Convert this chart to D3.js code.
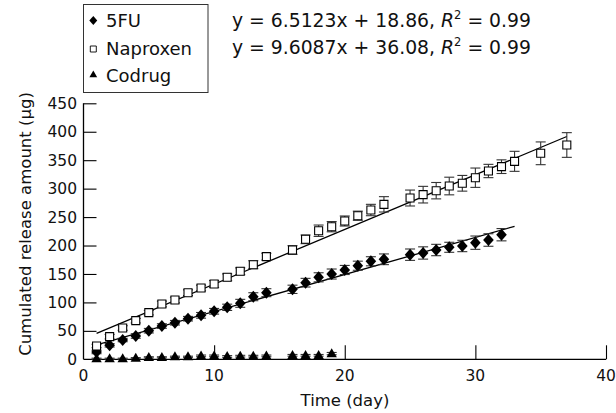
<!DOCTYPE html>
<html>
<head>
<meta charset="utf-8">
<script src="https://cdn.jsdelivr.net/npm/d3@7"></script>
<style>
  html, body { margin: 0; padding: 0; background: #fff; }
  svg { display: block; font-family: "DejaVu Sans", sans-serif; }
</style>
</head>
<body>
<svg id="chart" width="616" height="413"></svg>
<script>
// ---- data ----
const fuDays      = [1,2,3,4,5,6,7,8,9,10,11,12,13,14,16,17,18,19,20,21,22,23,25,26,27,28,29,30,31,32];
const fuValues    = [12.8,24.6,33.9,41,50.3,58.5,64.3,71.4,77.3,84.4,91.4,98.4,110,117.1,123,134.7,144.1,149.9,157,164.5,172.3,175.8,183.9,186.9,192.1,196.9,199.2,205,209.7,219];
const fuErrors    = [3,3,3,4,4,4,4,4,5,5,5.5,7,7,7,7.3,7.6,8,8.8,8,8,8,9.4,10,10.8,10,8.8,10,11.7,11,10.8];

const napDays     = [1,2,3,4,5,6,7,8,9,10,11,12,13,14,16,17,18,19,20,21,22,23,25,26,27,28,29,30,31,32,33,35,37];
const napValues   = [23.4,39.8,55,67.9,82,97.2,104.2,117.1,125.3,132.4,144.1,154.7,166.3,180.4,192.1,210.9,226,233.1,243.1,252.4,262.4,272.4,283.5,289.4,296.4,304.6,309.4,319.2,331,338.6,348,362.1,376.7];
const napErrors   = [3,4,4,4,4,5,5,5,5,6,6,6,7,6,7.6,7.6,10,9,8.8,8,10,13.5,14,14.6,14.4,15.5,13.8,17,11.7,12,17.6,20,21.7];

const coDays      = [1,2,3,4,5,6,7,8,9,10,11,12,13,14,16,17,18,19];
const coValues    = [1,1,1,2,3.5,3.5,4.5,4.5,6,6,5,5.5,5.5,6,7,7,7,10];
const coErrors    = [1,1,1,1,1,1,1,1,1.5,1.5,1.5,1.5,1.5,1.5,1.5,1.5,1.5,2];

const fuFit  = { slope: 6.5123, intercept: 18.86, from: 1, to: 33 };
const napFit = { slope: 9.6087, intercept: 36.08, from: 1, to: 37 };

const xTicks = [0,10,20,30,40];
const yTicks = [0,50,100,150,200,250,300,350,400,450];
const legendLabels = ["5FU","Naproxen","Codrug"];
const equationTexts = [
  ["y = 6.5123x + 18.86, ", "R", "2", " = 0.99"],
  ["y = 9.6087x + 36.08, ", "R", "2", " = 0.99"]
];
const xTitle = "Time (day)";
const yTitle = "Cumulated release amount (µg)";

// ---- layout ----
const svg = d3.select("#chart");
const x = d3.scaleLinear().domain([0,40]).range([83.5,606]);
const y = d3.scaleLinear().domain([0,450]).range([359.3,103.3]);
const tickFont = 15.5, titleFont = 16.5, legendFont = 18, eqFont = 18.8;

// symbols
const diamond = { draw(ctx) { const w = 5.3, h = 6; ctx.moveTo(0,-h); ctx.lineTo(w,0); ctx.lineTo(0,h); ctx.lineTo(-w,0); ctx.closePath(); } };
const square  = { draw(ctx) { const s = 4; ctx.moveTo(-s,-s); ctx.lineTo(s,-s); ctx.lineTo(s,s); ctx.lineTo(-s,s); ctx.closePath(); } };
const triangle= { draw(ctx) { const w = 5.2, h = 9; ctx.moveTo(0,-h*0.6); ctx.lineTo(w,h*0.4); ctx.lineTo(-w,h*0.4); ctx.closePath(); } };

// axes
const axisG = svg.append("g");
axisG.append("line").attr("x1", x(0)).attr("x2", x(40)).attr("y1", y(0)).attr("y2", y(0)).attr("stroke","#000").attr("stroke-width",1.3);
axisG.append("line").attr("x1", x(0)).attr("x2", x(0)).attr("y1", y(0)).attr("y2", y(450)).attr("stroke","#000").attr("stroke-width",1.3);

const xAxis = d3.axisTop(x).tickValues(xTicks.filter(d => d > 0)).tickSize(14).tickFormat("");
svg.append("g").attr("transform", `translate(0,${y(0)})`).call(xAxis)
  .call(g => g.select(".domain").remove())
  .call(g => g.selectAll("line").attr("stroke","#000").attr("stroke-width",1.1));
svg.append("g").selectAll("text").data(xTicks).join("text")
  .attr("x", d => x(d)).attr("y", 381).attr("text-anchor","middle")
  .attr("font-size", tickFont).attr("fill","#111").text(d => d);

const yAxis = d3.axisRight(y).tickValues(yTicks.filter(d => d > 0)).tickSize(13).tickFormat("");
svg.append("g").attr("transform", `translate(${x(0)},0)`).call(yAxis)
  .call(g => g.select(".domain").remove())
  .call(g => g.selectAll("line").attr("stroke","#000").attr("stroke-width",1.1));
svg.append("g").selectAll("text").data(yTicks).join("text")
  .attr("x", 77).attr("y", d => y(d)).attr("dy","0.36em").attr("text-anchor","end")
  .attr("font-size", tickFont).attr("fill","#111").text(d => d);

svg.append("text").attr("x", 345).attr("y", 405.5).attr("text-anchor","middle")
  .attr("font-size", titleFont).attr("fill","#111").text(xTitle);
svg.append("text").attr("transform","translate(31,224) rotate(-90)").attr("text-anchor","middle")
  .attr("font-size", titleFont).attr("fill","#111").text(yTitle);

// fit lines
const line = d3.line().x(d => x(d[0])).y(d => y(d[1]));
[fuFit, napFit].forEach(f => {
  svg.append("path").attr("d", line([[f.from, f.slope*f.from + f.intercept],[f.to, f.slope*f.to + f.intercept]]))
    .attr("stroke","#000").attr("stroke-width",1.3).attr("fill","none");
});

// series
function drawSeries(days, vals, errs, sym, fill, stroke) {
  const g = svg.append("g");
  const data = days.map((d,i) => ({d, v: vals[i], e: errs[i]}));
  const eb = g.append("g").attr("stroke","#333").attr("stroke-width",1.1);
  eb.selectAll(".v").data(data).join("line")
    .attr("x1", p => x(p.d)).attr("x2", p => x(p.d)).attr("y1", p => y(p.v - p.e)).attr("y2", p => y(p.v + p.e));
  eb.selectAll(".t").data(data).join("line")
    .attr("x1", p => x(p.d)-5).attr("x2", p => x(p.d)+5).attr("y1", p => y(p.v + p.e)).attr("y2", p => y(p.v + p.e));
  eb.selectAll(".b").data(data).join("line")
    .attr("x1", p => x(p.d)-5).attr("x2", p => x(p.d)+5).attr("y1", p => y(p.v - p.e)).attr("y2", p => y(p.v - p.e));
  g.selectAll("path.m").data(data).join("path").attr("class","m")
    .attr("transform", p => `translate(${x(p.d)},${y(p.v)})`)
    .attr("d", d3.symbol().type(sym)())
    .attr("fill", fill).attr("stroke", stroke).attr("stroke-width", 1.1);
}
drawSeries(coDays, coValues, coErrors, triangle, "#000", "none");
drawSeries(fuDays, fuValues, fuErrors, diamond, "#000", "none");
drawSeries(napDays, napValues, napErrors, square, "#fff", "#000");

// legend
svg.append("rect").attr("x", 83.5).attr("y", 4.5).attr("width", 124.5).attr("height", 88)
  .attr("fill","#fff").attr("stroke","#333").attr("stroke-width",1);
const legSyms = [diamond, square, triangle];
const legFill = ["#000","#fff","#000"];
const legStroke = ["none","#000","none"];
const legMarkY = [20.5, 49, 74.5];
const legBase = [26.5, 55, 81.5];
legendLabels.forEach((lab,i) => {
  svg.append("path")
    .attr("d", d3.symbol().type(legSyms[i])())
    .attr("fill", legFill[i]).attr("stroke", legStroke[i]).attr("stroke-width",1.2)
    .attr("transform", `translate(93.3,${legMarkY[i]}) scale(0.75)`);
  svg.append("text").attr("x", 106).attr("y", legBase[i])
    .attr("font-size", legendFont).attr("fill","#111").text(lab);
});

// equations
const eqBase = [26.5, 53.5];
equationTexts.forEach((parts,i) => {
  const t = svg.append("text").attr("x", 232).attr("y", eqBase[i]).attr("font-size", eqFont).attr("fill","#111");
  t.append("tspan").text(parts[0]);
  t.append("tspan").attr("font-style","italic").text(parts[1]);
  t.append("tspan").attr("font-size", 11.5).attr("dy", -7.5).text(parts[2]);
  t.append("tspan").attr("dy", 7.5).text(parts[3]);
});
</script>
</body>
</html>
